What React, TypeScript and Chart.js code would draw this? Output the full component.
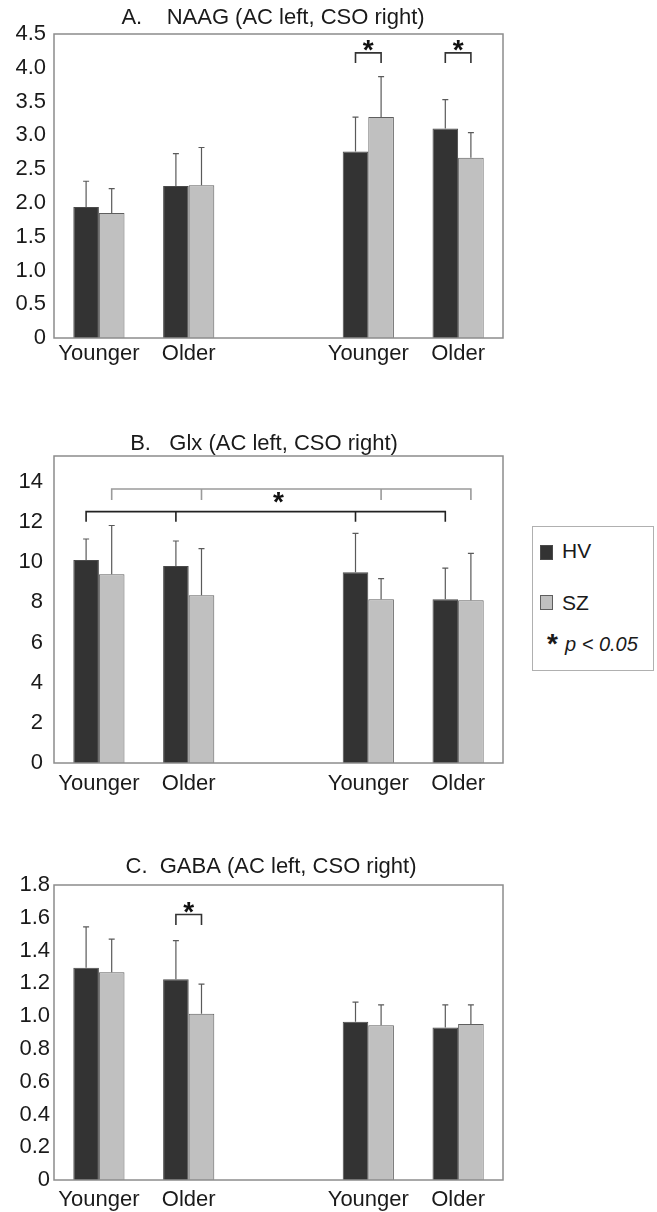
import React, { useEffect, useRef } from "react";
import { Chart, registerables } from "chart.js";

Chart.register(...registerables);

const FONT = '"Liberation Sans", Arial, Helvetica, sans-serif';

// ---------- shared ----------
const categories = ["Younger", "Older", "", "Younger", "Older"];
const seriesNames = ["HV", "SZ"];
const hvColor = "#333333";
const szColor = "#c0c0c0";

// ---------- A. NAAG ----------
const naagHV = [1.94, 2.25, null, 2.76, 3.1];
const naagHVsd = [0.38, 0.48, null, 0.51, 0.43];
const naagSZ = [1.85, 2.26, null, 3.27, 2.67];
const naagSZsd = [0.36, 0.56, null, 0.6, 0.37];
const naagTicks = ["0", "0.5", "1.0", "1.5", "2.0", "2.5", "3.0", "3.5", "4.0", "4.5"];
const naagBrackets = [
  { legs: [[3, 0], [3, 1]], top: 4.22, end: 4.07, color: "#333333" },
  { legs: [[4, 0], [4, 1]], top: 4.22, end: 4.07, color: "#333333" },
];
const naagStars = [
  { legs: [[3, 0], [3, 1]], value: 4.25 },
  { legs: [[4, 0], [4, 1]], value: 4.25 },
];

// ---------- B. Glx ----------
const glxHV = [10.1, 9.8, null, 9.5, 8.15];
const glxHVsd = [1.05, 1.25, null, 1.93, 1.55];
const glxSZ = [9.4, 8.35, null, 8.15, 8.1];
const glxSZsd = [2.42, 2.32, null, 1.03, 2.33];
const glxTicks = ["0", "2", "4", "6", "8", "10", "12", "14"];
const glxBrackets = [
  { legs: [[0, 1], [1, 1], [3, 1], [4, 1]], top: 13.64, end: 13.09, color: "#9a9a9a" },
  { legs: [[0, 0], [1, 0], [3, 0], [4, 0]], top: 12.51, end: 12.01, color: "#222222" },
];
const glxStars = [{ legs: [[0, 0], [4, 0], [0, 1], [4, 1]], value: 12.93 }];

// ---------- C. GABA ----------
const gabaHV = [1.295, 1.225, null, 0.965, 0.93];
const gabaHVsd = [0.25, 0.236, null, 0.12, 0.139];
const gabaSZ = [1.267, 1.015, null, 0.944, 0.952];
const gabaSZsd = [0.203, 0.18, null, 0.124, 0.116];
const gabaTicks = ["0", "0.2", "0.4", "0.6", "0.8", "1.0", "1.2", "1.4", "1.6", "1.8"];
const gabaBrackets = [{ legs: [[1, 0], [1, 1]], top: 1.62, end: 1.556, color: "#333333" }];
const gabaStars = [{ legs: [[1, 0], [1, 1]], value: 1.63 }];

type Panel = {
  title: string;
  hv: (number | null)[];
  hvSd: (number | null)[];
  sz: (number | null)[];
  szSd: (number | null)[];
  ticks: string[];
  max: number;
  step: number;
  brackets: { legs: number[][]; top: number; end: number; color: string }[];
  stars: { legs: number[][]; value: number }[];
  // layout
  top: number;
  height: number;
  padTop: number;
  yPad: number;
  xPad: number;
  titleX: number;
  titleDy: number;
};

const panels: Panel[] = [
  {
    title: "A.    NAAG (AC left, CSO right)",
    hv: naagHV, hvSd: naagHVsd, sz: naagSZ, szSd: naagSZsd,
    ticks: naagTicks, max: 4.5, step: 0.5,
    brackets: naagBrackets, stars: naagStars,
    top: 0, height: 378, padTop: 34, yPad: 8, xPad: 3, titleX: 273, titleDy: 16,
  },
  {
    title: "B.   Glx (AC left, CSO right)",
    hv: glxHV, hvSd: glxHVsd, sz: glxSZ, szSd: glxSZsd,
    ticks: glxTicks, max: 15.28, step: 2,
    brackets: glxBrackets, stars: glxStars,
    top: 420, height: 383, padTop: 36, yPad: 11, xPad: 7.5, titleX: 264, titleDy: 12.5,
  },
  {
    title: "C.  GABA (AC left, CSO right)",
    hv: gabaHV, hvSd: gabaHVsd, sz: gabaSZ, szSd: gabaSZsd,
    ticks: gabaTicks, max: 1.8, step: 0.2,
    brackets: gabaBrackets, stars: gabaStars,
    top: 845, height: 375, padTop: 40, yPad: 4, xPad: 7, titleX: 271, titleDy: 18.5,
  },
];

function extrasPlugin(p: Panel) {
  return {
    id: "extras",
    afterDatasetsDraw(chart: any) {
      const ctx = chart.ctx;
      const ys = chart.scales.y;
      const sets = [
        { v: p.hv, s: p.hvSd },
        { v: p.sz, s: p.szSd },
      ];
      ctx.save();
      ctx.strokeStyle = "#5a5a5a";
      ctx.lineWidth = 1.2;
      sets.forEach((set, di) => {
        const meta = chart.getDatasetMeta(di);
        meta.data.forEach((el: any, i: number) => {
          const v = set.v[i];
          const s = set.s[i];
          if (v == null || s == null) return;
          const x = el.x;
          const yb = el.y;
          const yt = ys.getPixelForValue(v + s);
          ctx.beginPath();
          ctx.moveTo(x, yb);
          ctx.lineTo(x, yt);
          ctx.moveTo(x - 3, yt);
          ctx.lineTo(x + 3, yt);
          ctx.stroke();
        });
      });
      ctx.restore();
    },
    afterDraw(chart: any) {
      const ctx = chart.ctx;
      const a = chart.chartArea;
      const ys = chart.scales.y;
      ctx.save();
      // frame
      ctx.strokeStyle = "#8c8c8c";
      ctx.lineWidth = 1.5;
      ctx.strokeRect(a.left, a.top, a.right - a.left, a.bottom - a.top);
      // brackets
      ctx.lineJoin = "miter";
      p.brackets.forEach((b) => {
        const xs = b.legs.map(([c, d]) => chart.getDatasetMeta(d).data[c].x);
        const yt = ys.getPixelForValue(b.top);
        const ye = ys.getPixelForValue(b.end);
        const x0 = Math.min(...xs);
        const x1 = Math.max(...xs);
        ctx.strokeStyle = b.color;
        ctx.lineWidth = 1.6;
        ctx.beginPath();
        ctx.moveTo(x0, ye);
        ctx.lineTo(x0, yt);
        ctx.lineTo(x1, yt);
        ctx.lineTo(x1, ye);
        xs.forEach((x) => {
          if (x !== x0 && x !== x1) {
            ctx.moveTo(x, yt);
            ctx.lineTo(x, ye);
          }
        });
        ctx.stroke();
      });
      // stars
      ctx.fillStyle = "#111111";
      ctx.font = `bold 28px ${FONT}`;
      ctx.textAlign = "center";
      ctx.textBaseline = "middle";
      p.stars.forEach((s) => {
        const xs = s.legs.map(([c, d]) => chart.getDatasetMeta(d).data[c].x);
        const x = xs.reduce((m, v) => m + v, 0) / xs.length;
        ctx.fillText("*", x, ys.getPixelForValue(s.value));
      });
      // title
      ctx.fillStyle = "#1a1a1a";
      ctx.font = `22px ${FONT}`;
      ctx.fillText(p.title, p.titleX, a.top - p.titleDy);
      ctx.restore();
    },
  };
}

function PanelChart({ p }: { p: Panel }) {
  const ref = useRef<HTMLCanvasElement>(null);
  useEffect(() => {
    const chart = new Chart(ref.current as HTMLCanvasElement, {
      type: "bar",
      data: {
        labels: categories,
        datasets: [
          {
            label: seriesNames[0],
            data: p.hv as any,
            backgroundColor: hvColor,
            borderColor: "#4a4a4a",
            borderWidth: 1,
            barPercentage: 1,
            categoryPercentage: 0.57,
          },
          {
            label: seriesNames[1],
            data: p.sz as any,
            backgroundColor: szColor,
            borderColor: "#5e5e5e",
            borderWidth: 1,
            barPercentage: 1,
            categoryPercentage: 0.57,
          },
        ],
      },
      options: {
        responsive: false,
        animation: false,
        layout: { padding: { top: p.padTop, right: 17, bottom: 0, left: 0 } },
        plugins: {
          legend: { display: false },
          title: { display: false },
          tooltip: { enabled: false },
        },
        scales: {
          x: {
            grid: { display: false, drawTicks: false },
            border: { display: false },
            ticks: {
              autoSkip: false,
              maxRotation: 0,
              padding: p.xPad,
              color: "#1a1a1a",
              font: { family: FONT, size: 22 },
            },
            afterFit: (s: any) => {
              s.height = 40;
            },
          },
          y: {
            min: 0,
            max: p.max,
            grid: { display: false, drawTicks: false },
            border: { display: false },
            ticks: {
              stepSize: p.step,
              includeBounds: false,
              padding: p.yPad,
              color: "#1a1a1a",
              font: { family: FONT, size: 22 },
              callback: (_v: any, i: number) => p.ticks[i] ?? "",
            },
            afterFit: (s: any) => {
              s.width = 54;
            },
          },
        },
      } as any,
      plugins: [extrasPlugin(p)],
    });
    return () => chart.destroy();
  }, [p]);
  return (
    <div style={{ position: "absolute", left: 0, top: p.top, width: 520, height: p.height }}>
      <canvas ref={ref} width={520} height={p.height} style={{ width: 520, height: p.height, display: "block" }} />
    </div>
  );
}

function Legend() {
  const txt = { position: "absolute" as const, fontFamily: FONT, lineHeight: 1, color: "#1a1a1a", whiteSpace: "nowrap" as const };
  return (
    <div
      style={{
        position: "absolute",
        left: 532,
        top: 526,
        width: 122,
        height: 145,
        border: "1px solid #b0b0b0",
        boxSizing: "border-box",
      }}
    >
      <div style={{ position: "absolute", left: 7, top: 18, width: 13, height: 15, background: hvColor, border: "1px solid #4a4a4a", boxSizing: "border-box" }} />
      <div style={{ ...txt, left: 29, top: 13, fontSize: 21 }}>{seriesNames[0]}</div>
      <div style={{ position: "absolute", left: 7, top: 68, width: 13, height: 15, background: szColor, border: "1px solid #5e5e5e", boxSizing: "border-box" }} />
      <div style={{ ...txt, left: 29, top: 65, fontSize: 21 }}>{seriesNames[1]}</div>
      <div style={{ ...txt, left: 14, top: 103, fontSize: 28, fontWeight: "bold" }}>*</div>
      <div style={{ ...txt, left: 32, top: 107, fontSize: 20, fontStyle: "italic" }}>p &lt; 0.05</div>
    </div>
  );
}

export default function App() {
  return (
    <div style={{ position: "absolute", left: 0, top: 0, width: 657, height: 1212, background: "#ffffff" }}>
      {panels.map((p, i) => (
        <PanelChart key={i} p={p} />
      ))}
      <Legend />
    </div>
  );
}
